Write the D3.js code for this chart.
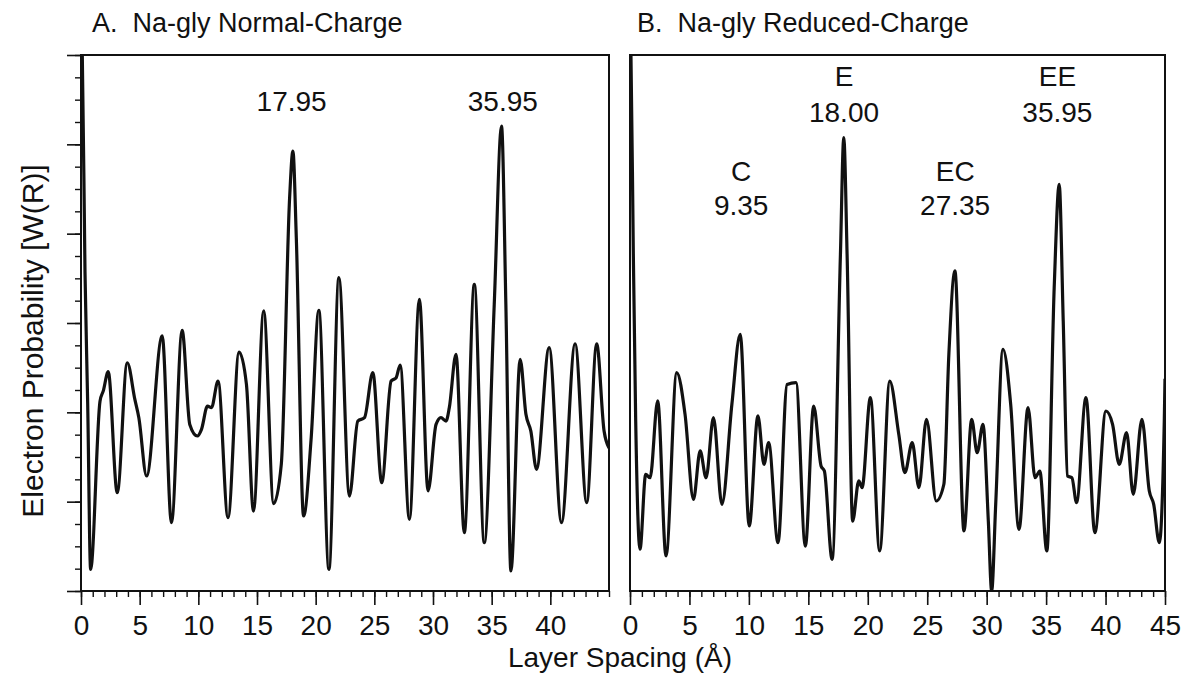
<!DOCTYPE html>
<html>
<head>
<meta charset="utf-8">
<script src="https://cdn.jsdelivr.net/npm/d3@7/dist/d3.min.js"></script>
<style>
  body { margin: 0; background: #fff; }
  text { font-family: "Liberation Sans", Arial, Helvetica, sans-serif; fill: #111; }
</style>
</head>
<body>
<div id="chart"></div>
<script>
// Layer spacing (Å) and electron probability (arbitrary units, 1 unit = 1 minor tick)
const aX = [0, 0.11, 0.34, 0.57, 0.82, 1.62, 1.9, 2.32, 3.09, 3.94, 4.59, 4.93, 5.59, 6.92, 7.71,
    8.62, 9.27, 9.92, 10.27, 10.78, 11.12, 11.68, 12.53, 13.47, 14.1, 14.7, 15.57, 16.42, 17.07, 17.78,
    18.06, 18.35, 18.97, 19.62, 20.27, 21.13, 21.98, 22.88, 23.59, 24.16, 24.87, 25.63, 26.43, 26.86, 27.2,
    27.99, 28.84, 29.58, 30.26, 30.68, 31.11, 31.39, 31.96, 32.67, 33.52, 34.37, 35.22, 35.84, 36.21, 36.64,
    37.43, 37.92, 38.34, 38.82, 39.9, 40.95, 42.11, 43.1, 43.95, 44.58, 45];
const aY = [25, 24, 14.3, 8.4, 0.97, 8.5, 8.96, 9.82, 4.4, 10.22, 8.58, 7.76, 5.15, 11.42, 3.06,
    11.67, 7.46, 6.94, 7.24, 8.28, 8.21, 9.4, 3.28, 10.7, 9.25, 3.58, 12.54, 3.91, 5.67, 17.61,
    19.7, 15.82, 3.36, 6.87, 12.57, 0.97, 14.03, 4.25, 7.61, 7.76, 9.78, 4.85, 9.4, 9.55, 10.12,
    3.21, 13.06, 4.48, 7.46, 7.76, 7.61, 8.21, 10.6, 2.61, 13.73, 2.16, 12.84, 20.82, 12.84, 0.9,
    10.37, 7.91, 7.16, 5.45, 10.9, 3.06, 11.07, 3.96, 11.07, 7.16, 6.4];

const bX = [0, 0.08, 0.28, 0.48, 0.84, 1.32, 1.69, 2.33, 3.03, 3.93, 4.63, 5.34, 5.9, 6.4, 7.02,
    7.73, 8.57, 9.27, 10.03, 10.76, 11.27, 11.66, 12.45, 13.21, 13.96, 14.75, 15.45, 16.07, 16.35, 17.0,
    17.7, 17.98, 18.26, 18.73, 19.24, 19.52, 20.22, 21.0, 21.85, 22.61, 23.12, 23.74, 24.3, 24.94, 25.76,
    26.4, 26.82, 27.33, 28.09, 28.74, 29.2, 29.69, 30.14, 30.42, 30.76, 31.37, 32.02, 32.72, 33.48, 34.07,
    34.47, 35.06, 35.68, 36.1, 36.44, 36.8, 37.17, 37.56, 38.35, 39.1, 40.03, 40.59, 41.15, 41.77, 42.33,
    43.06, 43.68, 44.05, 44.52, 44.94, 45];
const bY = [25, 24, 15.1, 7.6, 1.87, 5.22, 5.07, 8.51, 1.57, 9.78, 7.91, 4.1, 6.27, 5.07, 7.76,
    3.88, 8.36, 11.49, 2.91, 7.84, 5.67, 6.64, 2.16, 9.25, 9.33, 2.01, 8.28, 5.6, 5.37, 1.42,
    15.08, 20.3, 15.08, 3.13, 4.93, 4.63, 8.66, 1.79, 9.4, 7.01, 5.3, 6.64, 4.63, 7.69, 4.03,
    4.78, 10.6, 14.33, 2.69, 7.69, 6.19, 7.46, 3.13, 0.0, 3.88, 10.82, 8.36, 2.76, 8.21, 5.07,
    5.37, 1.79, 13.58, 18.21, 12.09, 5.15, 5.07, 3.96, 8.66, 2.61, 8.06, 7.46, 5.67, 7.09, 4.33,
    7.69, 4.48, 3.88, 2.16, 7.61, 9.5];

// tick labels
const xTickLabelsA = [0, 5, 10, 15, 20, 25, 30, 35, 40];
const xTickLabelsB = [0, 5, 10, 15, 20, 25, 30, 35, 40, 45];

// peak annotations: [peak position, label lines]
const peaksA = [[17.95, ['17.95']], [35.95, ['35.95']]];
const peaksB = [[18.00, ['E', '18.00']], [35.95, ['EE', '35.95']],
                [9.35, ['C', '9.35']], [27.35, ['EC', '27.35']]];

const titles = ['A.  Na-gly Normal-Charge', 'B.  Na-gly Reduced-Charge'];

const svg = d3.select('#chart').append('svg')
    .attr('width', 1191)
    .attr('height', 684);

const plotTop = 55, plotBottom = 591;
const yScale = d3.scaleLinear().domain([0, 24]).range([plotBottom, plotTop]);

const panels = [
    {left: 81, right: 609, xs: aX, ys: aY, labels: xTickLabelsA, peaks: peaksA, title: titles[0], yAxis: true, titleX: 92},
    {left: 630, right: 1165, xs: bX, ys: bY, labels: xTickLabelsB, peaks: peaksB, title: titles[1], yAxis: false, titleX: 637}
];

panels.forEach((p, i) => {
    const xScale = d3.scaleLinear().domain([0, 45]).range([p.left, p.right]);
    const g = svg.append('g');

    // minor x ticks
    g.append('g')
        .attr('transform', `translate(0, ${plotBottom})`)
        .call(d3.axisBottom(xScale).tickValues(d3.range(0, 46, 1)).tickSize(6).tickFormat(''))
        .call(a => a.select('.domain').remove())
        .call(a => a.selectAll('line').attr('stroke', '#111').attr('stroke-width', 1.4));

    // major x ticks with labels
    g.append('g')
        .attr('transform', `translate(0, ${plotBottom})`)
        .call(d3.axisBottom(xScale).tickValues(p.labels).tickSize(14).tickPadding(10).tickFormat(d3.format('d')))
        .call(a => a.select('.domain').remove())
        .call(a => a.selectAll('line').attr('stroke', '#111').attr('stroke-width', 1.6))
        .call(a => a.selectAll('text').style('font-size', '28px')
            .style('font-family', '"Liberation Sans", Arial, sans-serif').attr('fill', '#111'));

    if (p.yAxis) {
        g.append('g')
            .attr('transform', `translate(${p.left}, 0)`)
            .call(d3.axisLeft(yScale).tickValues(d3.range(0, 25, 1)).tickSize(6).tickFormat(''))
            .call(a => a.select('.domain').remove())
            .call(a => a.selectAll('line').attr('stroke', '#111').attr('stroke-width', 1.4));
        g.append('g')
            .attr('transform', `translate(${p.left}, 0)`)
            .call(d3.axisLeft(yScale).tickValues(d3.range(0, 25, 4)).tickSize(14).tickFormat(''))
            .call(a => a.select('.domain').remove())
            .call(a => a.selectAll('line').attr('stroke', '#111').attr('stroke-width', 1.6));
    }

    // frame
    g.append('rect')
        .attr('x', p.left)
        .attr('y', plotTop)
        .attr('width', p.right - p.left)
        .attr('height', plotBottom - plotTop)
        .attr('fill', 'none')
        .attr('stroke', '#111')
        .attr('stroke-width', 2);

    // clip curve to frame
    svg.append('clipPath').attr('id', 'clip' + i)
        .append('rect')
        .attr('x', p.left).attr('y', plotTop)
        .attr('width', p.right - p.left).attr('height', plotBottom - plotTop);

    const line = d3.line()
        .x(d => xScale(d[0]))
        .y(d => yScale(d[1]))
        .curve(d3.curveMonotoneX);

    g.append('path')
        .datum(p.xs.map((x, j) => [x, p.ys[j]]))
        .attr('clip-path', `url(#clip${i})`)
        .attr('d', line)
        .attr('fill', 'none')
        .attr('stroke', '#111')
        .attr('stroke-width', 3.2)
        .attr('stroke-linejoin', 'round');

    // peak labels
    p.peaks.forEach(([pos, lines]) => {
        // two-line labels for E/EE sit higher than C/EC
        let baseY;
        if (lines.length === 1) baseY = [111];
        else if (pos === 18.00 || pos === 35.95) baseY = [86, 122];
        else baseY = [181, 215];
        lines.forEach((t, k) => {
            g.append('text')
                .attr('x', xScale(pos))
                .attr('y', baseY[k])
                .attr('text-anchor', 'middle')
                .style('font-size', '28px')
                .text(t);
        });
    });

    // panel title
    svg.append('text')
        .attr('x', p.titleX)
        .attr('y', 32)
        .style('font-size', '27px')
        .style('white-space', 'pre')
        .text(p.title);
});

// axis titles
svg.append('text')
    .attr('transform', 'translate(43, 341) rotate(-90)')
    .attr('text-anchor', 'middle')
    .style('font-size', '30px')
    .text('Electron Probability [W(R)]');

svg.append('text')
    .attr('x', 620)
    .attr('y', 667)
    .attr('text-anchor', 'middle')
    .style('font-size', '28px')
    .text('Layer Spacing (Å)');
</script>
</body>
</html>
